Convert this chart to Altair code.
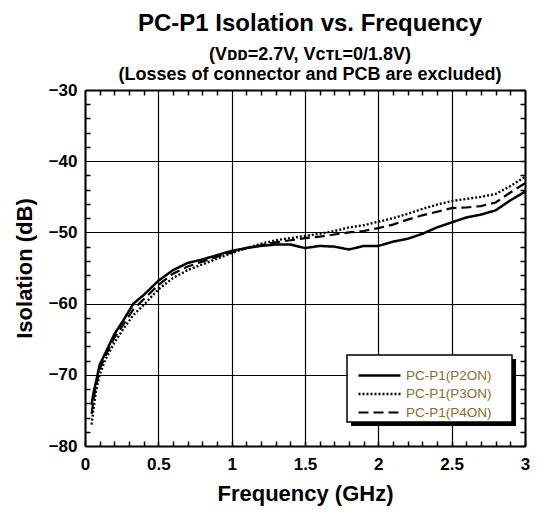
import altair as alt
import pandas as pd

# ---- data ----
freq = [0.045, 0.06, 0.075, 0.1, 0.14, 0.2, 0.26, 0.33, 0.4, 0.5, 0.6, 0.7, 0.8, 0.9,
        1.0, 1.1, 1.2, 1.3, 1.4, 1.5, 1.6, 1.7, 1.8, 1.9, 2.0, 2.1, 2.2, 2.3, 2.4, 2.5,
        2.6, 2.7, 2.8, 2.9, 3.0]
p2on = [-74.2, -72.3, -71.0, -68.6, -66.9, -64.3, -62.4, -60.0, -58.8, -56.8, -55.3, -54.3,
        -53.8, -53.2, -52.6, -52.2, -51.9, -51.7, -51.7, -52.2, -51.9, -52.0, -52.4, -51.9,
        -51.9, -51.3, -50.9, -50.2, -49.3, -48.6, -47.9, -47.5, -46.9, -45.5, -44.3]
p3on = [-77.0, -74.5, -72.3, -70.0, -67.8, -65.5, -63.6, -61.6, -60.2, -58.0, -56.4, -55.3,
        -54.5, -53.7, -52.9, -52.2, -51.6, -51.1, -50.8, -50.5, -50.2, -49.8, -49.3, -49.0,
        -48.5, -48.0, -47.4, -46.7, -46.1, -45.6, -45.3, -45.0, -44.6, -43.5, -42.2]
p4on = [-75.5, -73.2, -71.6, -69.2, -67.3, -64.8, -63.0, -60.8, -59.4, -57.4, -55.8, -54.8,
        -54.1, -53.4, -52.8, -52.2, -51.8, -51.4, -51.1, -50.8, -50.6, -50.3, -50.0, -49.8,
        -49.4, -48.9, -48.2, -47.6, -47.1, -46.6, -46.5, -46.3, -45.8, -44.4, -43.1]
series_names = ["PC-P1(P2ON)", "PC-P1(P3ON)", "PC-P1(P4ON)"]

x_ticks = [round(i * 0.1, 1) for i in range(31)]
y_ticks = list(range(-80, -29, 2))

title_text = "PC-P1 Isolation vs. Frequency"
subtitle_lines = ["(V\u1d05\u1d05=2.7V, V\u1d04\u1d1b\u029f=0/1.8V)",
                  "(Losses of connector and PCB are excluded)"]

rows = []
for name, vals in zip(series_names, [p2on, p3on, p4on]):
    for f, v in zip(freq, vals):
        rows.append({"Frequency": f, "Isolation": v, "Series": name})
df = pd.DataFrame(rows)

FONT = "Liberation Sans"
major_x = "abs(datum.value*2 - round(datum.value*2)) < 0.001"
major_y = "datum.value % 10 === 0"


def cond(test, a, b):
    return {"condition": {"test": test, "value": a}, "value": b}


x_scale = alt.Scale(domain=[0, 3], nice=False, zero=False)
y_scale = alt.Scale(domain=[-80, -30], nice=False, zero=False)

common_axis = dict(
    grid=True, gridColor="black", ticks=False, tickSize=0,
    domainColor="black", domainWidth=2,
    labelFont=FONT, labelFontSize=17, labelFontWeight="bold", labelColor="black",
    labelOverlap=False, labelFlush=False,
    titleFont=FONT, titleFontSize=22, titleFontWeight="bold", titleColor="black",
)

x_axis_bottom = alt.Axis(
    orient="bottom", values=x_ticks,
    gridDash=cond(major_x, [1, 0], [5, 2000]), gridWidth=cond(major_x, 1.2, 1.5),
    labelExpr=f"({major_x}) ? format(datum.value, '~g') : ''",
    labelPadding=10, title="Frequency (GHz)", titlePadding=11, **common_axis)
y_axis_left = alt.Axis(
    orient="left", values=y_ticks,
    gridDash=cond(major_y, [1, 0], [5, 2000]), gridWidth=cond(major_y, 1.2, 1.5),
    labelExpr=f"({major_y}) ? format(datum.value, 'd') : ''",
    labelPadding=8, title="Isolation (dB)", titlePadding=12, **common_axis)

x_axis_top = alt.Axis(orient="top", values=x_ticks, grid=True, gridColor="black",
                      gridDash=[5, 2000], gridWidth=1.5, ticks=False, labels=False,
                      domainColor="black", domainWidth=2, title=None)
y_axis_right = alt.Axis(orient="right", values=y_ticks, grid=True, gridColor="black",
                        gridDash=[5, 2000], gridWidth=1.5, ticks=False, labels=False,
                        domainColor="black", domainWidth=2, title=None)

legend = alt.Legend(
    orient="none", legendX=272, legendY=277, title=None, padding=0,
    symbolType="M-1,0H5", symbolSize=196, symbolStrokeColor="black",
    labelOffset=32, labelFont=FONT, labelFontSize=13.5, labelColor="#8c6b2f",
    rowPadding=3.5)

lines = alt.Chart(df).mark_line(color="black", clip=True).encode(
    x=alt.X("Frequency:Q", scale=x_scale, axis=x_axis_bottom),
    y=alt.Y("Isolation:Q", scale=y_scale, axis=y_axis_left),
    strokeDash=alt.StrokeDash("Series:N", scale=alt.Scale(
        domain=series_names, range=[[1, 0], [2, 2], [10, 5]]), legend=legend),
    strokeWidth=alt.StrokeWidth("Series:N", scale=alt.Scale(
        domain=series_names, range=[2.5, 2.2, 0.9]), legend=legend),
    detail="Series:N",
)

frame = alt.Chart(df).mark_line(opacity=0).encode(
    x=alt.X("Frequency:Q", scale=x_scale, axis=x_axis_top),
    y=alt.Y("Isolation:Q", scale=y_scale, axis=y_axis_right),
    detail="Series:N",
)

box_data = pd.DataFrame({"k": [0]})
shadow = alt.Chart(box_data).mark_rect(color="black").encode(
    x=alt.value(266), x2=alt.value(431), y=alt.value(269), y2=alt.value(336))
box = alt.Chart(box_data).mark_rect(fill="white", stroke="black", strokeWidth=1.5).encode(
    x=alt.value(262), x2=alt.value(427), y=alt.value(265), y2=alt.value(332))

chart = alt.layer(frame, lines, shadow, box).resolve_axis(
    x="independent", y="independent"
).properties(
    width=440, height=356,
    autosize=alt.AutoSizeParams(type="none"),
    padding={"left": 77, "top": 82, "right": 6, "bottom": 62},
    title=alt.TitleParams(
        text=title_text, subtitle=subtitle_lines,
        font=FONT, fontSize=24, fontWeight="bold", color="black",
        subtitleFont=FONT, subtitleFontSize=18, subtitleFontWeight="bold",
        subtitleColor="black", subtitleLineHeight=20, subtitlePadding=10,
        anchor="middle", offset=-3, dx=5),
).configure_view(stroke=None)

chart.save("out.html", embed_options={"renderer": "svg", "actions": False})
